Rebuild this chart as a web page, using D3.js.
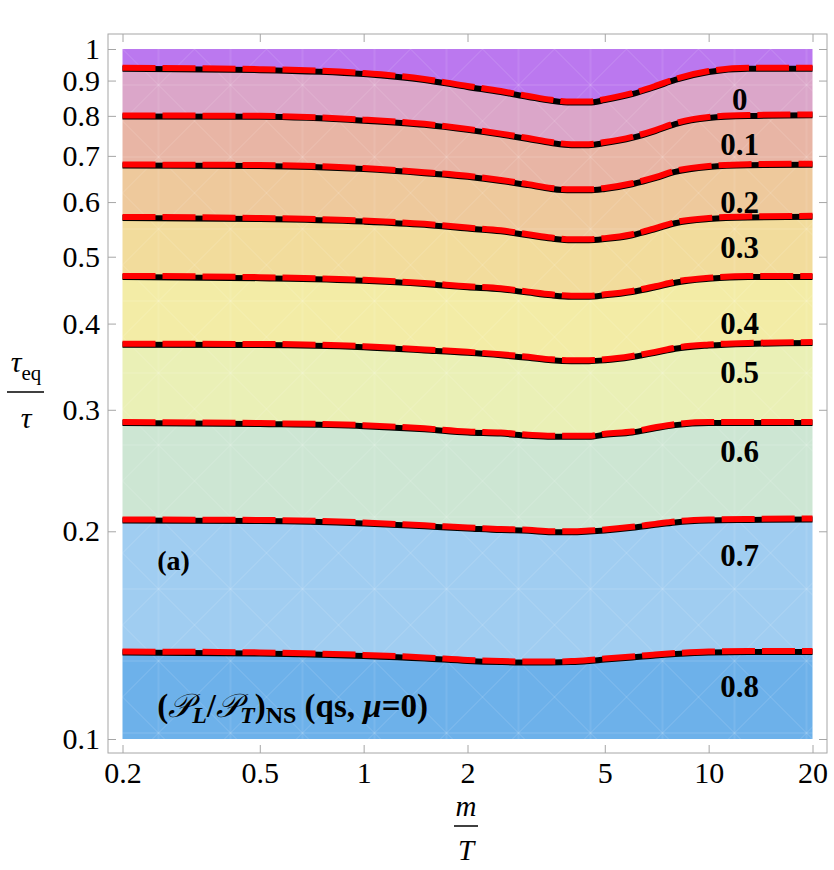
<!DOCTYPE html>
<html>
<head>
<meta charset="utf-8">
<script src="https://cdn.jsdelivr.net/npm/d3@7"></script>
<style>
  body { margin: 0; background: #fff; }
  svg text { font-family: "Liberation Serif", "Times New Roman", serif; fill: #000; }
  .axis line { stroke: #a6a6a6; stroke-width: 1; }
</style>
</head>
<body>
<div id="chart"></div>
<script>
// m/T sample points along every contour
const mT = [0.2, 0.5, 1, 1.5, 2, 2.5, 3, 3.5, 4, 4.5, 5, 6, 7, 8, 10, 13, 20];

// tau_eq/tau along each contour of (P_L/P_T)_NS
const level0  = [0.939, 0.935, 0.923, 0.905, 0.884, 0.869, 0.855, 0.844, 0.839, 0.839, 0.846, 0.863, 0.884, 0.905, 0.929, 0.939, 0.939];
const level01 = [0.801, 0.800, 0.790, 0.779, 0.766, 0.754, 0.743, 0.733, 0.728, 0.728, 0.733, 0.746, 0.763, 0.781, 0.797, 0.802, 0.804];
const level02 = [0.680, 0.679, 0.672, 0.663, 0.655, 0.646, 0.637, 0.629, 0.626, 0.626, 0.629, 0.639, 0.652, 0.666, 0.677, 0.681, 0.682];
const level03 = [0.571, 0.569, 0.564, 0.558, 0.551, 0.546, 0.539, 0.533, 0.530, 0.530, 0.532, 0.539, 0.550, 0.561, 0.569, 0.572, 0.573];
const level04 = [0.469, 0.467, 0.463, 0.458, 0.453, 0.450, 0.445, 0.441, 0.439, 0.439, 0.441, 0.446, 0.453, 0.460, 0.466, 0.469, 0.469];
const level05 = [0.374, 0.3737, 0.371, 0.367, 0.364, 0.361, 0.358, 0.355, 0.354, 0.354, 0.355, 0.359, 0.364, 0.369, 0.373, 0.375, 0.376];
const level06 = [0.288, 0.287, 0.285, 0.282, 0.279, 0.278, 0.276, 0.275, 0.275, 0.275, 0.277, 0.279, 0.283, 0.286, 0.288, 0.288, 0.288];
const level07 = [0.208, 0.2077, 0.206, 0.204, 0.2026, 0.2015, 0.201, 0.200, 0.200, 0.2005, 0.2012, 0.203, 0.205, 0.2067, 0.208, 0.2084, 0.2087];
const level08 = [0.1339, 0.1335, 0.1324, 0.1313, 0.1302, 0.1297, 0.1295, 0.1295, 0.1297, 0.1302, 0.1308, 0.1317, 0.1326, 0.1332, 0.1339, 0.1341, 0.1341];

const levels = ["0", "0.1", "0.2", "0.3", "0.4", "0.5", "0.6", "0.7", "0.8"];
const contours = [level0, level01, level02, level03, level04, level05, level06, level07, level08];
// where each contour label sits (m/T, tau_eq/tau)
const labelX = 12.3;
const labelY = [0.816, 0.702, 0.578, 0.498, 0.386, 0.328, 0.252, 0.178, 0.115];

const bandColors = ["#bb78ef", "#dba6c9", "#e8b5a5", "#eec99c", "#f2dc9c", "#f3eca6", "#eaf0b6", "#cde6d3", "#a0cdf1", "#6db1ea"];

const xTicks = [0.2, 0.5, 1, 2, 5, 10, 20];
const yTicks = [0.1, 0.2, 0.3, 0.4, 0.5, 0.6, 0.7, 0.8, 0.9, 1];

const W = 834, H = 870;
const frame = { left: 108, top: 34, right: 827, bottom: 753 };
const serif = "Liberation Serif, Times New Roman, serif";

const svg = d3.select("#chart").append("svg").attr("width", W).attr("height", H);

const x = d3.scaleLog().domain([0.2, 20]).range([122.5, 812.5]);
const y = d3.scaleLog().domain([0.1, 1]).range([739, 49]);

// faint white mesh seen over the filled regions
const defs = svg.append("defs");
const pat = defs.append("pattern")
  .attr("id", "mesh").attr("patternUnits", "userSpaceOnUse")
  .attr("width", 72).attr("height", 72)
  .attr("x", 122.5).attr("y", 49);
[[0, 0, 72, 72], [72, 0, 0, 72], [36, 0, 36, 72], [0, 36, 72, 36]].forEach(function (l) {
  pat.append("line")
    .attr("x1", l[0]).attr("y1", l[1]).attr("x2", l[2]).attr("y2", l[3])
    .attr("stroke", "#fff").attr("stroke-opacity", 0.16).attr("stroke-width", 1);
});

// bands between contours
const bands = d3.range(bandColors.length).map(function (k) {
  return mT.map(function (m, i) {
    return {
      m: m,
      top: k === 0 ? 1 : contours[k - 1][i],
      bot: k === contours.length ? 0.1 : contours[k][i]
    };
  });
});

const area = d3.area()
  .x(d => x(d.m))
  .y0(d => y(d.bot))
  .y1(d => y(d.top))
  .curve(d3.curveMonotoneX);

const g = svg.append("g");
g.selectAll(".band")
  .data(bands)
  .enter().append("path")
  .attr("class", "band")
  .attr("d", area)
  .attr("fill", (d, i) => bandColors[i]);

g.append("rect")
  .attr("x", x(0.2)).attr("y", y(1))
  .attr("width", x(20) - x(0.2)).attr("height", y(0.1) - y(1))
  .attr("fill", "url(#mesh)");

// contour lines: black solid under red dashed
const line = d3.line()
  .x((d, i) => x(mT[i]))
  .y(d => y(d))
  .curve(d3.curveMonotoneX);

g.selectAll(".cblack")
  .data(contours)
  .enter().append("path")
  .attr("class", "cblack")
  .attr("d", line)
  .attr("fill", "none")
  .attr("stroke", "#000")
  .attr("stroke-width", 6)
  .attr("transform", "translate(0,1)");

g.selectAll(".cred")
  .data(contours)
  .enter().append("path")
  .attr("class", "cred")
  .attr("d", line)
  .attr("fill", "none")
  .attr("stroke", "#ff0000")
  .attr("stroke-width", 6)
  .attr("stroke-dasharray", "33,7");

// contour labels
g.selectAll(".clabel")
  .data(levels)
  .enter().append("text")
  .attr("class", "clabel")
  .attr("x", x(labelX))
  .attr("y", (d, i) => y(labelY[i]))
  .attr("text-anchor", "middle")
  .attr("font-family", serif)
  .style("font-size", "31px")
  .style("font-weight", "bold")
  .text(d => d);

g.append("text")
  .attr("x", x(0.252)).attr("y", y(0.1757))
  .style("font-size", "28px").style("font-weight", "bold")
  .text("(a)");

const title = g.append("text")
  .attr("x", x(0.252)).attr("y", y(0.1076))
  .style("font-size", "33px").style("font-weight", "bold");
title.append("tspan").text("(");
title.append("tspan").style("font-style", "italic").style("font-weight", "normal").text("\u{1D4AB}");
title.append("tspan").style("font-style", "italic").style("font-size", "24px").attr("dy", 6).text("L");
title.append("tspan").attr("dy", -6).text("/");
title.append("tspan").style("font-style", "italic").style("font-weight", "normal").text("\u{1D4AB}");
title.append("tspan").style("font-style", "italic").style("font-size", "24px").attr("dy", 6).text("T");
title.append("tspan").attr("dy", -6).text(")");
title.append("tspan").style("font-size", "24px").attr("dy", 6).text("NS");
title.append("tspan").attr("dy", -6).text(" (qs, ");
title.append("tspan").style("font-style", "italic").text("\u03BC");
title.append("tspan").text("=0)");

// frame and ticks
svg.append("rect")
  .attr("x", frame.left).attr("y", frame.top)
  .attr("width", frame.right - frame.left).attr("height", frame.bottom - frame.top)
  .attr("fill", "none").attr("stroke", "#a6a6a6").attr("stroke-width", 1);

const fmt = d => d3.format("")(d);

function styleAxis(a) {
  a.select(".domain").remove();
  a.attr("font-family", serif).attr("font-size", 30);
  a.selectAll("text").attr("fill", "#000").attr("font-family", serif).style("font-size", "30px");
}

svg.append("g").attr("class", "axis")
  .attr("transform", "translate(0," + frame.bottom + ")")
  .call(d3.axisBottom(x).tickValues(xTicks).tickSize(-8).tickPadding(9).tickFormat(fmt))
  .call(styleAxis);

svg.append("g").attr("class", "axis")
  .attr("transform", "translate(0," + frame.top + ")")
  .call(d3.axisTop(x).tickValues(xTicks).tickSize(-8).tickFormat(""))
  .call(styleAxis);

svg.append("g").attr("class", "axis")
  .attr("transform", "translate(" + frame.left + ",0)")
  .call(d3.axisLeft(y).tickValues(yTicks).tickSize(-8).tickPadding(8).tickFormat(fmt))
  .call(styleAxis);

svg.append("g").attr("class", "axis")
  .attr("transform", "translate(" + frame.right + ",0)")
  .call(d3.axisRight(y).tickValues(yTicks).tickSize(-8).tickFormat(""))
  .call(styleAxis);

// axis labels as fractions
const yl = svg.append("g").attr("transform", "translate(26,0)");
const num = yl.append("text").attr("x", 0).attr("y", 372).attr("text-anchor", "middle").style("font-size", "30px");
num.append("tspan").style("font-style", "italic").text("\u03C4");
num.append("tspan").style("font-size", "21px").attr("dy", 8).text("eq");
yl.append("line").attr("x1", -19).attr("x2", 18).attr("y1", 392).attr("y2", 392).attr("stroke", "#000").attr("stroke-width", 1.5);
yl.append("text").attr("x", 0).attr("y", 428).attr("text-anchor", "middle")
  .style("font-size", "30px").style("font-style", "italic").text("\u03C4");

const xl = svg.append("g").attr("transform", "translate(466,0)");
xl.append("text").attr("x", 0).attr("y", 816).attr("text-anchor", "middle")
  .style("font-size", "29px").style("font-style", "italic").text("m");
xl.append("line").attr("x1", -12).attr("x2", 12).attr("y1", 826).attr("y2", 826).attr("stroke", "#000").attr("stroke-width", 1.5);
xl.append("text").attr("x", 0).attr("y", 860).attr("text-anchor", "middle")
  .style("font-size", "29px").style("font-style", "italic").text("T");
</script>
</body>
</html>
